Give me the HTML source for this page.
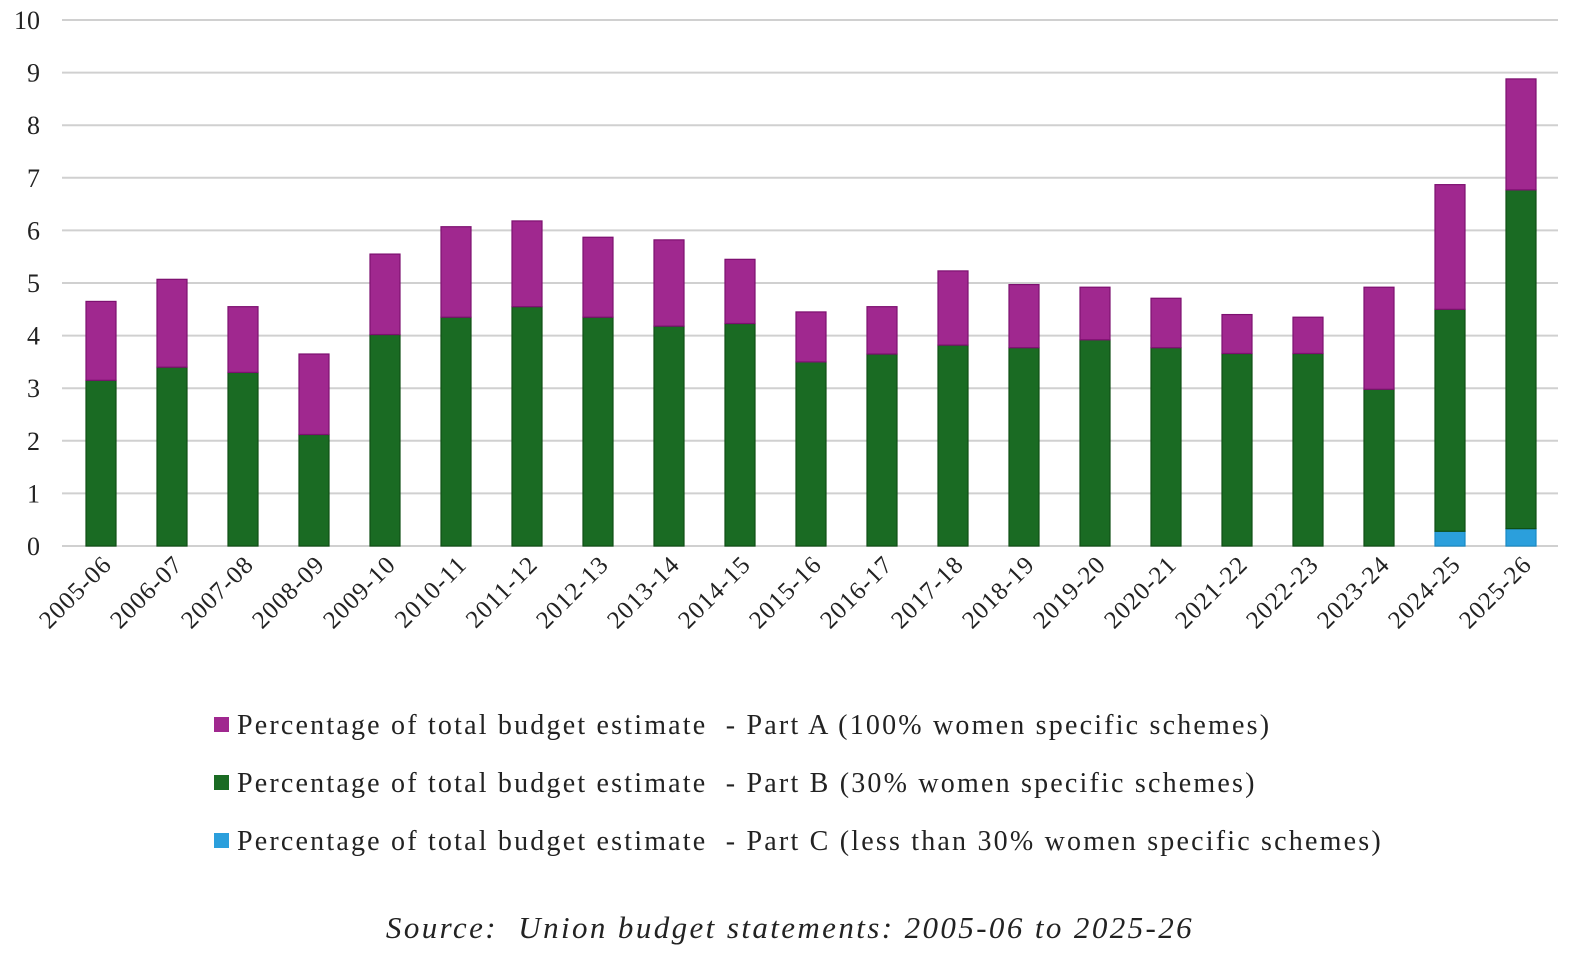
<!DOCTYPE html>
<html><head><meta charset="utf-8"><style>
body{margin:0;background:#fff;}
svg{display:block;font-family:"Liberation Serif",serif;}
</style></head><body>
<svg width="1595" height="970" id="chart"></svg>
<script>
const categories=["2005-06","2006-07","2007-08","2008-09","2009-10","2010-11","2011-12","2012-13","2013-14","2014-15","2015-16","2016-17","2017-18","2018-19","2019-20","2020-21","2021-22","2022-23","2023-24","2024-25","2025-26"];
const partC=[0,0,0,0,0,0,0,0,0,0,0,0,0,0,0,0,0,0,0,0.28,0.33];
const partB=[3.15,3.4,3.3,2.12,4.02,4.35,4.55,4.35,4.18,4.23,3.5,3.65,3.82,3.77,3.92,3.77,3.66,3.66,2.98,4.22,6.44];
const partA=[1.5,1.67,1.25,1.53,1.53,1.72,1.63,1.52,1.64,1.22,0.95,0.9,1.41,1.2,1.0,0.94,0.74,0.69,1.94,2.37,2.11];
const yTicks=[0,1,2,3,4,5,6,7,8,9,10];
const NS="http://www.w3.org/2000/svg";
const svg=document.getElementById('chart');
const y0=546,yTop=20,yMax=10,xL=62,xR=1558;
const y=v=>y0-(y0-yTop)*v/yMax;
const step=71,x0=101,bw=30;
const x=i=>x0+i*step;
function mk(t,a,p){const e=document.createElementNS(NS,t);for(const k in a)e.setAttribute(k,a[k]);(p||svg).appendChild(e);return e;}
yTicks.forEach(t=>{
  const l=mk('line',{x1:xL,x2:xR,y1:y(t),y2:y(t),stroke:'#d0d0d0','stroke-width':2});
  
  
  const tx=mk('text',{x:40,y:y(t)+9,'text-anchor':'end','font-size':26,fill:'#222'});
  tx.textContent=t;
  
  
});
const colors=['#2b9fdc','#1a6b23','#a0288f'];
const edges=['#1a8ac4','#0f4f14','#7d1070'];
categories.forEach((c,i)=>{
  let base=0;
  [partC,partB,partA].forEach((s,k)=>{
    const v=s[i];
    if(v>0){
      const r=mk('rect',{x:x(i)-bw/2,y:y(base+v),width:bw,height:y(base)-y(base+v),fill:colors[k],stroke:edges[k],'stroke-width':1.2});
      
      
    }
    base+=v;
  });
  const t=mk('text',{x:0,y:0,'text-anchor':'end','font-size':25,'letter-spacing':1,fill:'#222',transform:`translate(${x(i)+12},${y0+20}) rotate(-45)`});
  t.textContent=c;
  
  
});
const legend=[["Percentage of total budget estimate  - Part A (100% women specific schemes)",'#a0288f'],["Percentage of total budget estimate  - Part B (30% women specific schemes)",'#1a6b23'],["Percentage of total budget estimate  - Part C (less than 30% women specific schemes)",'#2b9fdc']];
legend.forEach((l,i)=>{
  const yy=725+i*58;
  const r=mk('rect',{x:214,y:yy-8,width:15,height:15,fill:l[1]});
  
  
  const t=mk('text',{x:237,y:yy+9,'font-size':28,'letter-spacing':2.2,fill:'#222'});
  t.setAttribute('style','white-space:pre');
  t.textContent=l[0];
  
  
});
const s=mk('text',{x:790,y:938,'text-anchor':'middle','font-size':31,'letter-spacing':2.4,'font-style':'italic',fill:'#222'});
s.setAttribute('style','white-space:pre');
s.textContent="Source:  Union budget statements: 2005-06 to 2025-26";


</script>
</body></html>
